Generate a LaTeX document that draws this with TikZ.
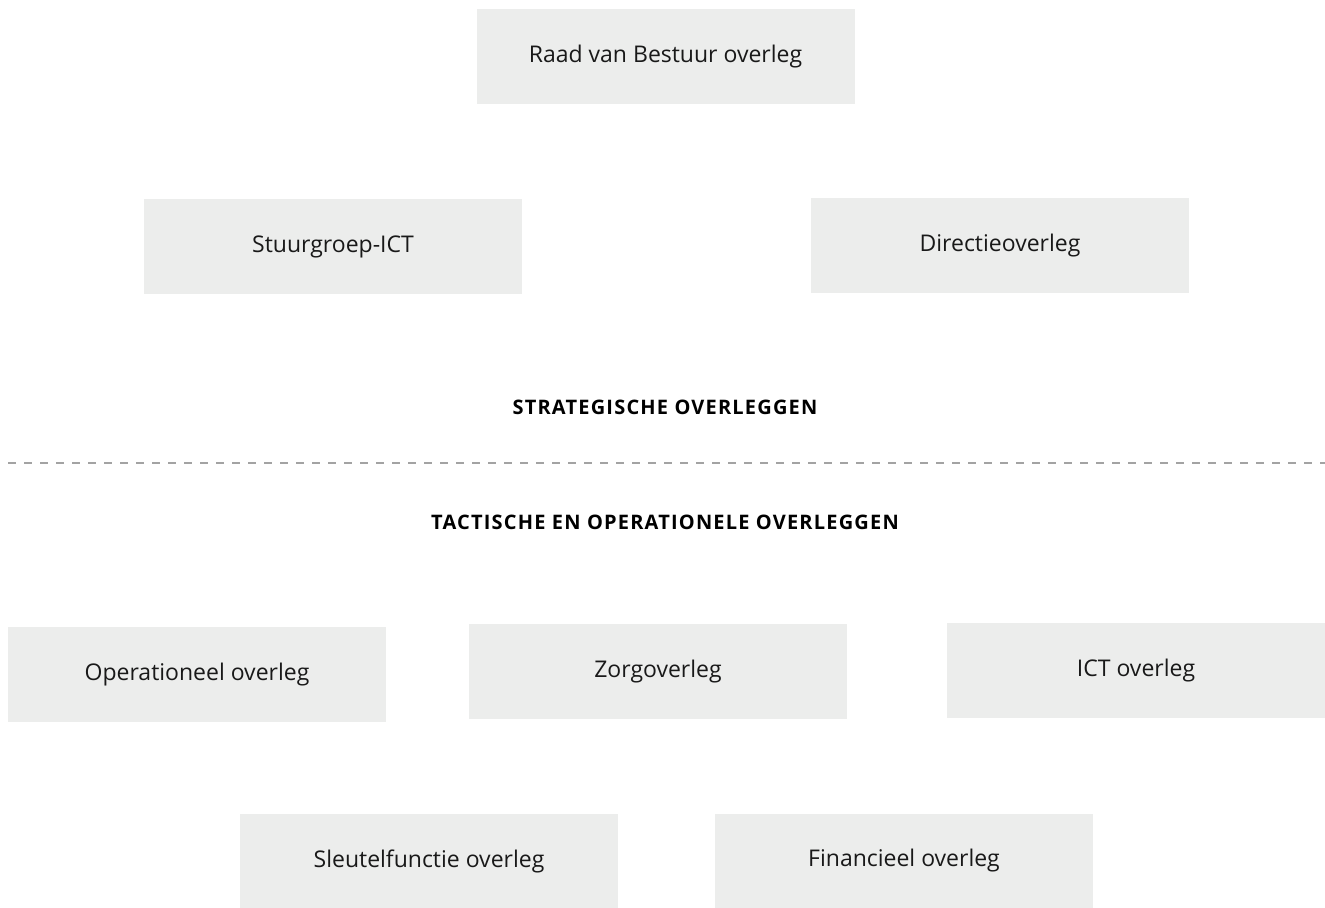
\documentclass[tikz,border=0pt]{standalone}
\usepackage{fontspec}
\setmainfont{Open Sans}
\usepackage{xcolor}
\usepackage{tikz}
\usetikzlibrary{positioning,calc}

\definecolor{boxgrey}{HTML}{ECEDEC}
\definecolor{lijngrey}{HTML}{A3A3A3}

\tikzset{
  overleg/.style={fill=boxgrey, draw=none, minimum width=189pt, minimum height=47.5pt,
    inner sep=0pt, font=\fontsize{11.5}{13}\selectfont, text=black!90},
  niveau/.style={font=\fontsize{10}{12}\selectfont\bfseries\addfontfeatures{LetterSpace=6}, text=black}
}

\begin{document}
\begin{tikzpicture}[x=0.5pt,y=-0.5pt]
\useasboundingbox (0,0) rectangle (1325,908);
% Strategische overleggen
\node[overleg] (rvb) at (665.5,57) {Raad van Bestuur overleg};
\node[overleg] (stuur) at (333,247) {Stuurgroep-ICT};
\node[overleg] (dir) at (1000,246) {Directieoverleg};
\node[niveau] (strat) at (665,407) {STRATEGISCHE OVERLEGGEN};
% Scheidingslijn
\coordinate (links) at (8,463);
\coordinate (rechts) at (1325,463);
\draw[lijngrey, line width=1pt, dash pattern=on 4pt off 4pt] (links) -- (rechts);
\node[niveau] (tact) at (665,522) {TACTISCHE EN OPERATIONELE OVERLEGGEN};
% Tactische en operationele overleggen
\node[overleg] (oper) at (197,674.5) {Operationeel overleg};
\node[overleg] (zorg) at (658,671.5) {Zorgoverleg};
\node[overleg] (ict) at (1136,670.5) {ICT overleg};
\node[overleg] (sleutel) at (429,861.5) {Sleutelfunctie overleg};
\node[overleg] (fin) at (904,861) {Financieel overleg};
\end{tikzpicture}
\end{document}
